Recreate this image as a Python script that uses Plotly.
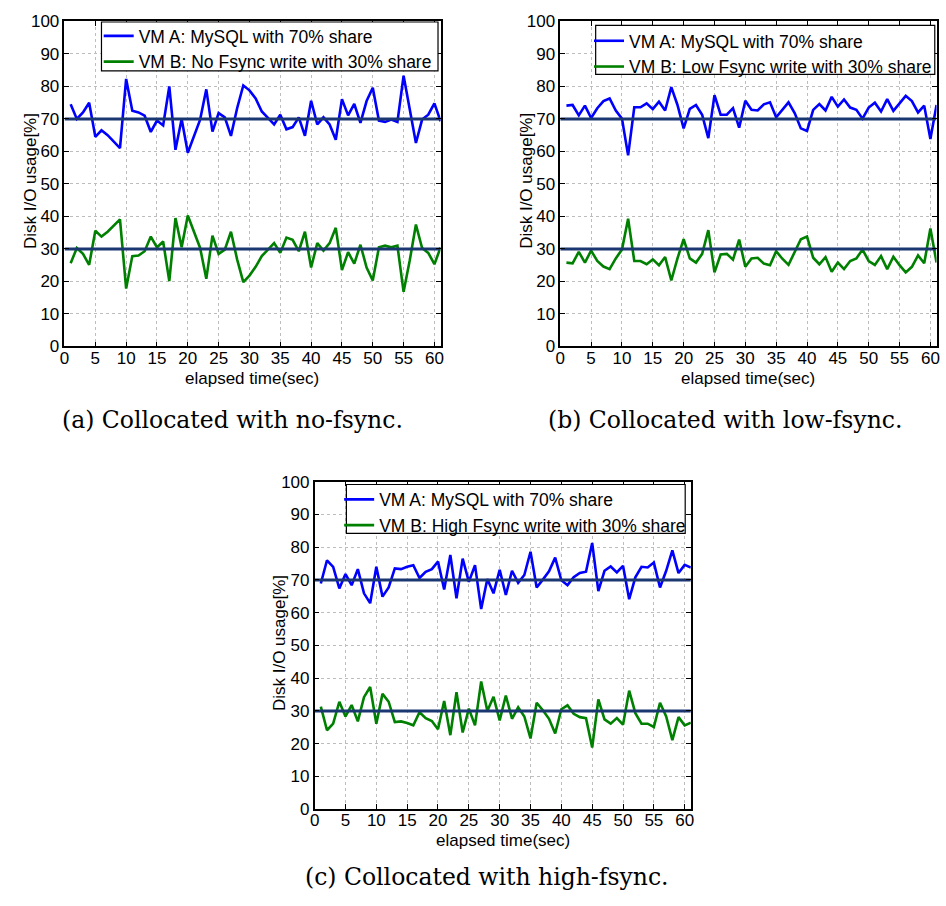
import plotly.graph_objects as go

# ---------------- data ----------------
seconds = list(range(1, 62))
share_levels = [70, 30]
x_ticks = list(range(0, 61, 5))
y_ticks = list(range(0, 101, 10))

vm_a_nofsync = [74.5, 70, 72, 75, 64.5, 66.5, 65, 63, 61, 82.3,
                72.5, 72, 71, 66, 69.5, 68, 80, 60.5, 70, 59.6,
                64.8, 69.8, 79.1, 66.1, 71.8, 70.5, 64.8, 73.3, 80.3, 78.8,
                76.3, 72.3, 70.3, 68.3, 71.3, 66.8, 67.5, 70.5, 64.8, 75.6,
                68.3, 70.5, 68.3, 63.6, 76.1, 71.1, 74.6, 68.8, 75.5, 79.6,
                69.5, 69.1, 69.8, 69.1, 83.3, 72.3, 62.6, 69.8, 71.3, 74.8, 69.3]
vm_b_nofsync = [25.6, 30.3, 28.5, 25.1, 35.6, 33.8, 35.3, 37.3, 39.1, 17.8,
                27.8, 28, 29.3, 33.8, 30.5, 32.3, 20.1, 39.5, 30.5, 40.3,
                35.3, 30.3, 20.8, 34.1, 28.5, 29.8, 35.3, 26.8, 19.8, 21.8,
                24.5, 27.8, 29.8, 31.8, 28.8, 33.5, 32.8, 29.3, 35.3, 24.3,
                31.8, 29.5, 31.8, 36.5, 23.5, 29, 25.5, 31.3, 24.3, 20.3,
                30.5, 31, 30.5, 31, 16.8, 26.5, 37.5, 30.3, 28.8, 25.3, 30.5]

vm_a_lowfsync = [74.1, 74.3, 71.1, 74.1, 70.3, 73.3, 75.5, 76.3, 72.6, 70.1,
                 58.8, 73.6, 73.6, 74.8, 73, 75.3, 72.6, 79.8, 74.3, 67.1,
                 73.1, 74.3, 71.3, 64.1, 77.3, 71.3, 71.3, 73.3, 67.3, 75.6,
                 72.8, 72.6, 74.5, 75.1, 70.5, 72.8, 75.1, 71.8, 67.1, 66.3,
                 72.8, 74.6, 72.6, 76.8, 73.8, 76, 73.5, 72.8, 70.1, 73.5,
                 75, 72.3, 76.1, 72.5, 74.8, 77.1, 75.5, 72, 74.1, 63.8, 74.3]
vm_b_lowfsync = [25.8, 25.6, 29.1, 25.8, 29.5, 26.3, 24.6, 23.8, 27.1, 29.8,
                 39.3, 26.3, 26.3, 25.3, 26.8, 25, 27.5, 20.3, 27.1, 33,
                 27.1, 25.8, 28.5, 35.8, 22.8, 28.3, 28.5, 26.7, 32.9, 24.5,
                 27.1, 27.3, 25.5, 25, 29.3, 27, 25.1, 28.8, 33, 33.8,
                 27.3, 25.3, 27.5, 23, 25.8, 23.8, 26.3, 27.1, 29.8, 26.3,
                 25.1, 27.8, 23.8, 27.6, 25, 22.8, 24.5, 28, 25.6, 36.3, 25.8]

vm_a_highfsync = [68.9, 76, 74, 67.4, 71.8, 68.4, 73.3, 65.9, 62.9, 74,
                  64.9, 67.7, 73.5, 73.3, 74, 74.5, 70.6, 72.5, 73.3, 75.6,
                  67.1, 77.6, 64.4, 76.5, 69.4, 74.5, 61.1, 70.3, 65.9, 73.1,
                  65.4, 72.8, 69.1, 71.5, 78.6, 67.7, 70.1, 72.6, 76.8, 69.9,
                  68.4, 70.8, 72.1, 72.5, 81.3, 66.6, 72.8, 74.1, 72.3, 74.3,
                  64.1, 70.8, 74, 73.8, 75.3, 67.7, 72.8, 79, 72.1, 74.6, 73.8]
vm_b_highfsync = [31.3, 24.1, 26.1, 32.8, 28.3, 31.8, 26.8, 34.2, 37.3, 26.1,
                  35.2, 32.8, 26.6, 26.8, 26.3, 25.6, 29.6, 27.8, 26.9, 24.4,
                  33, 22.6, 35.7, 23.4, 30.7, 25.6, 39, 30, 34.3, 27.1,
                  34.7, 27.6, 31.1, 28.3, 21.6, 32.5, 30.2, 27.6, 23.1, 30.5,
                  31.7, 29.1, 28.1, 27.8, 18.8, 33.5, 27.4, 26.1, 27.8, 25.8,
                  36.2, 29.3, 26.1, 26.1, 25.1, 32.5, 28.3, 21.1, 28.1, 25.6, 26.4]

legend_a = "VM A: MySQL with 70% share"
legend_b = ["VM B: No Fsync write with 30% share",
            "VM B: Low Fsync write with 30% share",
            "VM B: High Fsync write with 30% share"]
captions = ["(a) Collocated with no-fsync.",
            "(b) Collocated with low-fsync.",
            "(c) Collocated with high-fsync."]
x_title = "elapsed time(sec)"
y_title = "Disk I/O usage[%]"
x_range = [0, 61]

# ---------------- layout geometry (pixels) ----------------
W, H = 946, 906
def fx(px):
    return px / W
def fy(py):
    return 1 - py / H

panels = [
    dict(x0=60, x1=439.3, y0=12.7, y1=344.7,
         box=(97.3, 13.3, 436.7, 63.3), leg_left=94.5, leg_top=9.2,
         xt=(249, 377), yt=(26, 176), cap=(229, 420)),
    dict(x0=560, x1=939.5, y0=12.7, y1=344.7,
         box=(595.7, 16.7, 937.7, 66.7), leg_left=589, leg_top=14.2,
         xt=(749, 377), yt=(526, 176), cap=(726, 420)),
    dict(x0=312.3, x1=691.7, y0=482.8, y1=817.3,
         box=(344.3, 485.7, 686, 535.7), leg_left=337, leg_top=482.6,
         xt=(502, 849.5), yt=(277, 648), cap=(486, 887)),
]
series = [(vm_a_nofsync, vm_b_nofsync), (vm_a_lowfsync, vm_b_lowfsync),
          (vm_a_highfsync, vm_b_highfsync)]

FONT = "Liberation Sans, Arial, sans-serif"
SERIF = "DejaVu Serif, serif"
NAVY = "#1b3772"

fig = go.Figure()
layout = dict(width=W, height=H, margin=dict(l=0, r=0, t=0, b=0),
              paper_bgcolor="white", plot_bgcolor="white",
              font=dict(family=FONT, size=17, color="black"),
              annotations=[], shapes=[])

for i, (p, (a_vals, b_vals)) in enumerate(zip(panels, series)):
    sfx = "" if i == 0 else str(i + 1)
    xa, ya = "x" + sfx, "y" + sfx
    leg = "legend" + sfx
    fig.add_trace(go.Scatter(x=seconds, y=a_vals, mode="lines", name=legend_a,
                             line=dict(color="#0000ff", width=2.6),
                             xaxis=xa, yaxis=ya, legend=leg, legendgroup="a" + sfx))
    fig.add_trace(go.Scatter(x=seconds, y=b_vals, mode="lines", name=legend_b[i],
                             line=dict(color="#008000", width=2.6),
                             xaxis=xa, yaxis=ya, legend=leg, legendgroup="b" + sfx))
    for lvl in share_levels:
        fig.add_trace(go.Scatter(x=x_range, y=[lvl, lvl], mode="lines",
                                 line=dict(color=NAVY, width=3), showlegend=False,
                                 hoverinfo="skip", xaxis=xa, yaxis=ya))
    common = dict(showline=True, linecolor="black", linewidth=1.5, mirror="ticks",
                  ticks="inside", ticklen=5, tickwidth=1, tickcolor="black",
                  showgrid=True, gridcolor="#bdbdbd", griddash="dot", gridwidth=1,
                  zeroline=False, tickfont=dict(family=FONT, size=17, color="black"))
    layout["xaxis" + sfx] = dict(common, domain=[fx(p["x0"]), fx(p["x1"])],
                                 range=x_range, tickvals=x_ticks, anchor=ya,
                                 ticklabelstandoff=-5)
    layout["yaxis" + sfx] = dict(common, domain=[fy(p["y1"]), fy(p["y0"])],
                                 range=[0, 100], tickvals=y_ticks, anchor=xa)
    # legend (text + line samples) drawn by plotly, framed by a white box
    layout[leg] = dict(x=fx(p["leg_left"]), y=fy(p["leg_top"]), xanchor="left",
                       yanchor="top", bgcolor="rgba(0,0,0,0)", borderwidth=0,
                       tracegroupgap=0, itemwidth=30,
                       font=dict(family=FONT, size=17.5, color="black"))
    bx0, by0, bx1, by1 = p["box"]
    layout["shapes"].append(dict(type="rect", xref="paper", yref="paper",
                                 x0=fx(bx0), x1=fx(bx1), y0=fy(by1), y1=fy(by0),
                                 fillcolor="white", line=dict(color="black", width=1.2),
                                 layer="above"))
    # axis titles
    layout["annotations"].append(dict(text=x_title, x=fx(p["xt"][0]), y=fy(p["xt"][1]),
                                      xref="paper", yref="paper", showarrow=False,
                                      xanchor="center", yanchor="middle",
                                      font=dict(family=FONT, size=17, color="black")))
    layout["annotations"].append(dict(text=y_title, x=fx(p["yt"][0]), y=fy(p["yt"][1]),
                                      xref="paper", yref="paper", showarrow=False,
                                      textangle=-90, xanchor="center", yanchor="middle",
                                      font=dict(family=FONT, size=17, color="black")))
    # caption
    layout["annotations"].append(dict(text=captions[i], x=fx(p["cap"][0]), y=fy(p["cap"][1]),
                                      xref="paper", yref="paper", showarrow=False,
                                      xanchor="center", yanchor="middle",
                                      font=dict(family=SERIF, size=23.5, color="black")))

fig.update_layout(**layout)
fig.write_html("out.html", config={"displayModeBar": False},
               post_script="document.body.style.margin='0';"
                           "document.body.style.padding='0';"
                           "document.body.style.overflow='hidden';")
